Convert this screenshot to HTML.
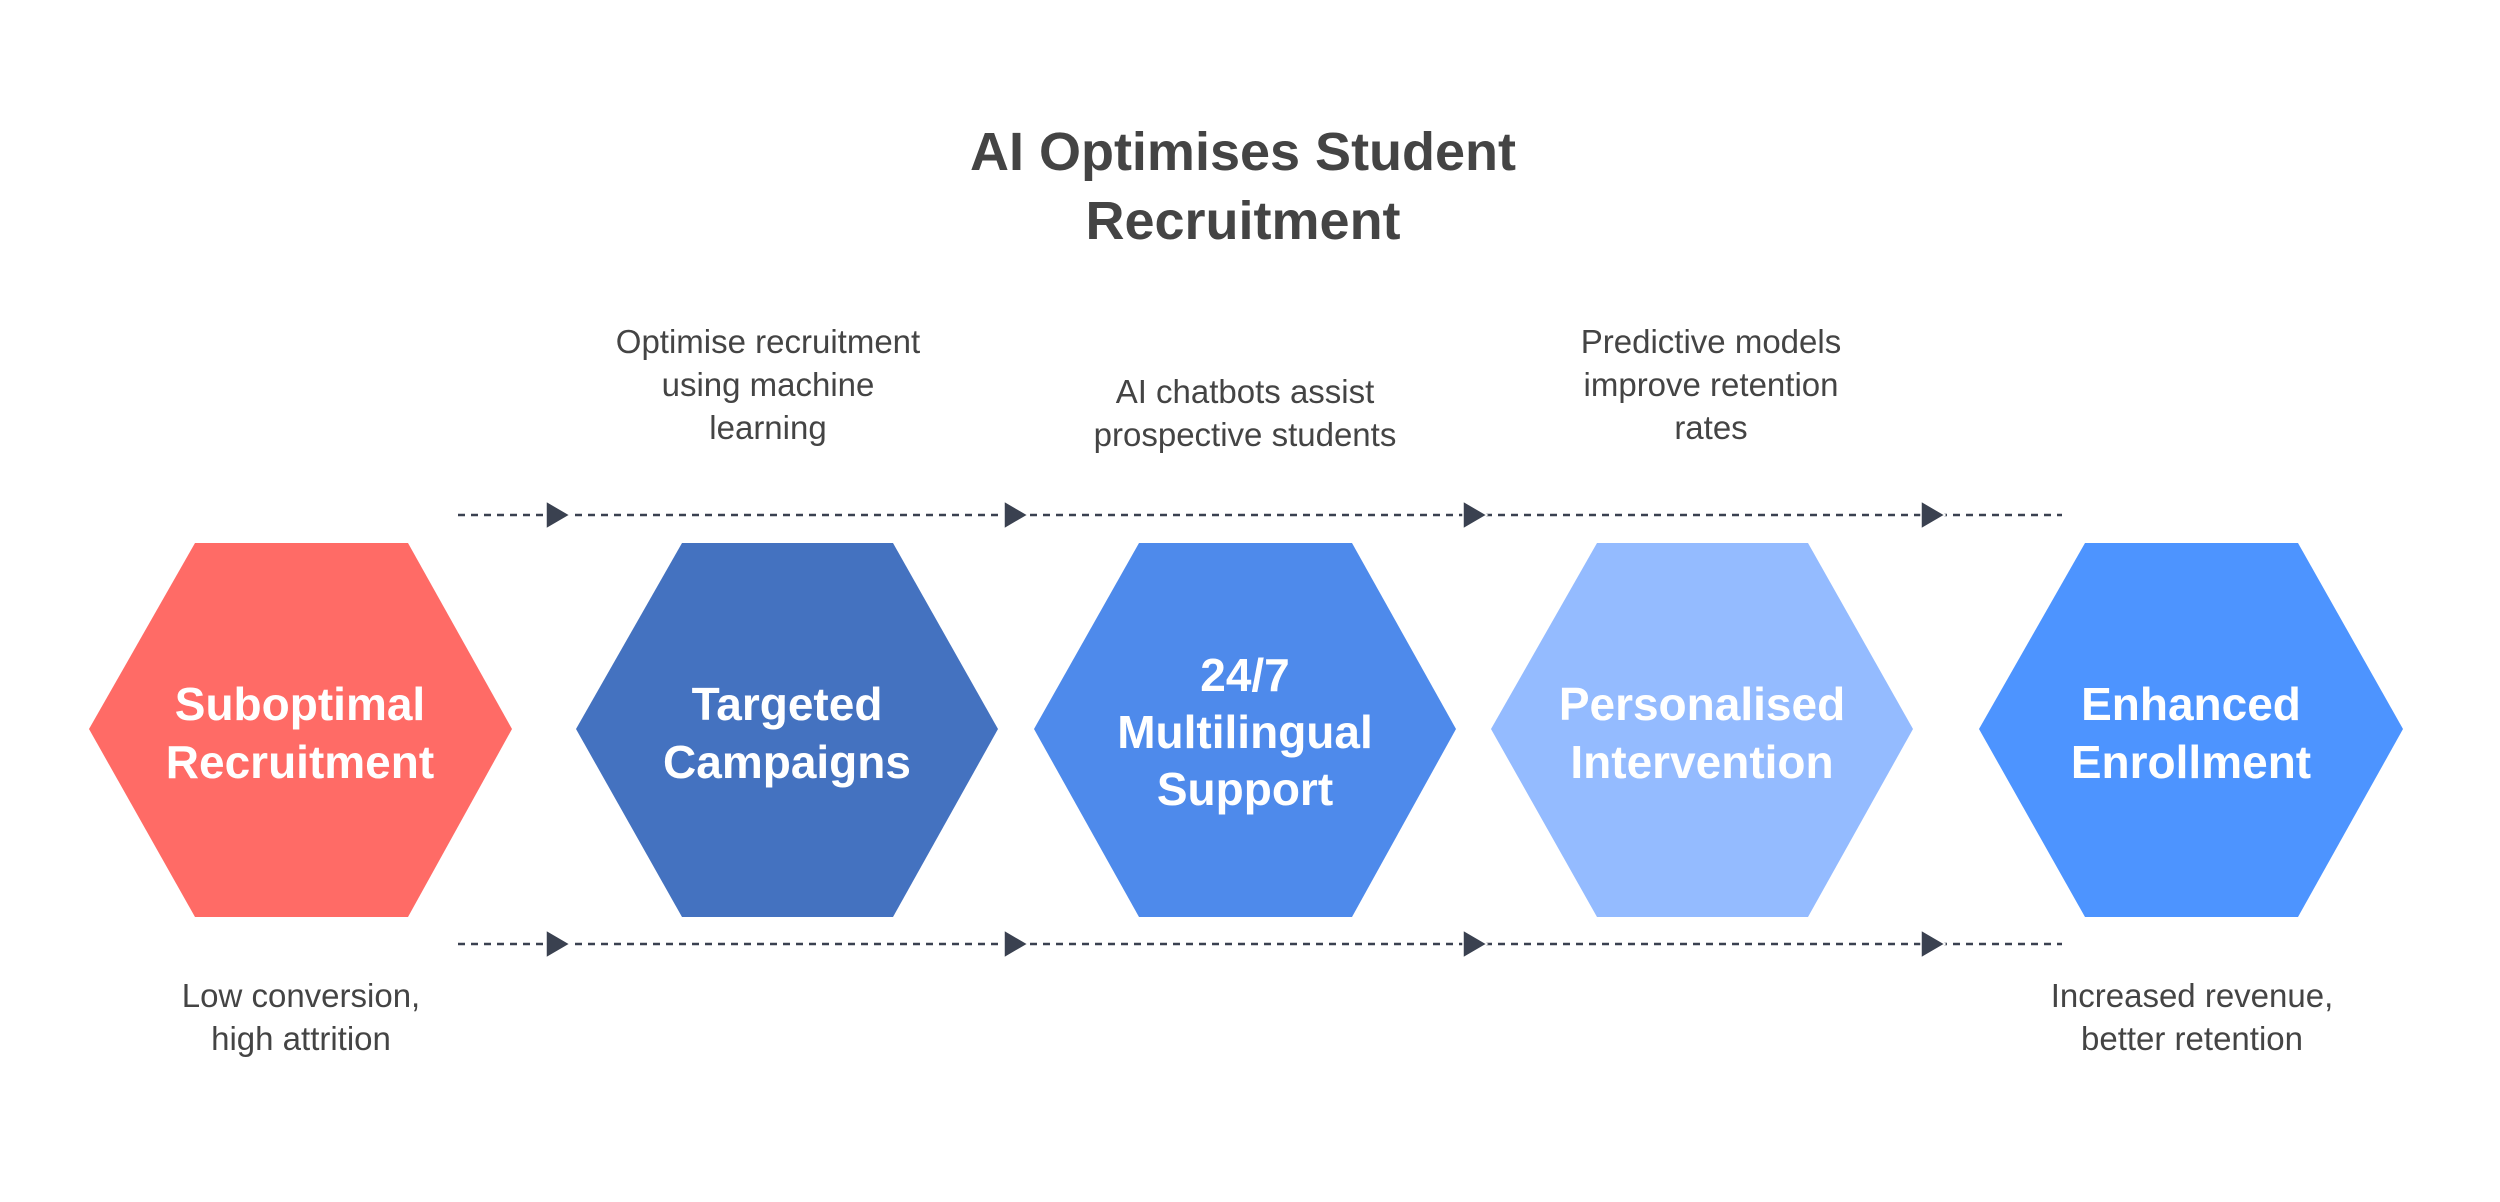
<!DOCTYPE html>
<html><head><meta charset="utf-8"><style>
html,body{margin:0;padding:0;background:#fff}
svg{display:block}
text{font-family:"Liberation Sans",Arial,sans-serif}
.t{fill:#444;font-size:33px;text-anchor:middle}
.h{fill:#fff;font-size:46px;font-weight:bold;text-anchor:middle}
</style></head><body>
<svg width="2500" height="1202" viewBox="0 0 2500 1202" xmlns="http://www.w3.org/2000/svg">
<text x="1243" y="170" text-anchor="middle" font-size="54" font-weight="bold" fill="#444">AI Optimises Student</text>
<text x="1243" y="239" text-anchor="middle" font-size="54" font-weight="bold" fill="#444">Recruitment</text>

<text class="t" x="768" y="353">Optimise recruitment</text>
<text class="t" x="768" y="396">using machine</text>
<text class="t" x="768" y="439">learning</text>
<text class="t" x="1245" y="403">AI chatbots assist</text>
<text class="t" x="1245" y="446">prospective students</text>
<text class="t" x="1711" y="353">Predictive models</text>
<text class="t" x="1711" y="396">improve retention</text>
<text class="t" x="1711" y="439">rates</text>
<text class="t" x="301" y="1007">Low conversion,</text>
<text class="t" x="301" y="1050">high attrition</text>
<text class="t" x="2192" y="1007">Increased revenue,</text>
<text class="t" x="2192" y="1050">better retention</text>

<g stroke="#3a4150" stroke-width="2.5" stroke-dasharray="7 6">
<line x1="458" y1="515" x2="2062" y2="515"/>
<line x1="458" y1="944" x2="2062" y2="944"/>
</g>
<g fill="#3a4150" stroke="#fff" stroke-width="1.5">
<polygon points="546,501 570,515 546,529"/>
<polygon points="1004,501 1028,515 1004,529"/>
<polygon points="1463,501 1487,515 1463,529"/>
<polygon points="1921,501 1945,515 1921,529"/>
<polygon points="546,930 570,944 546,958"/>
<polygon points="1004,930 1028,944 1004,958"/>
<polygon points="1463,930 1487,944 1463,958"/>
<polygon points="1921,930 1945,944 1921,958"/>
</g>

<polygon fill="#FF6B66" points="89,729 195,543 408,543 512,729 408,917 195,917"/>
<polygon fill="#4472C0" points="576,729 682,543 893,543 998,729 893,917 682,917"/>
<polygon fill="#4E8AEB" points="1034,729 1139,543 1352,543 1456,729 1352,917 1139,917"/>
<polygon fill="#94BBFF" points="1491,729 1597,543 1808,543 1913,729 1808,917 1597,917"/>
<polygon fill="#4D94FF" points="1979,729 2085,543 2298,543 2403,729 2298,917 2085,917"/>

<text class="h" x="300" y="720">Suboptimal</text>
<text class="h" x="300" y="778">Recruitment</text>
<text class="h" x="787" y="720">Targeted</text>
<text class="h" x="787" y="778">Campaigns</text>
<text class="h" x="1245" y="691">24/7</text>
<text class="h" x="1245" y="748">Multilingual</text>
<text class="h" x="1245" y="805">Support</text>
<text class="h" x="1702" y="720">Personalised</text>
<text class="h" x="1702" y="778">Intervention</text>
<text class="h" x="2191" y="720">Enhanced</text>
<text class="h" x="2191" y="778">Enrollment</text>
</svg>
</body></html>
